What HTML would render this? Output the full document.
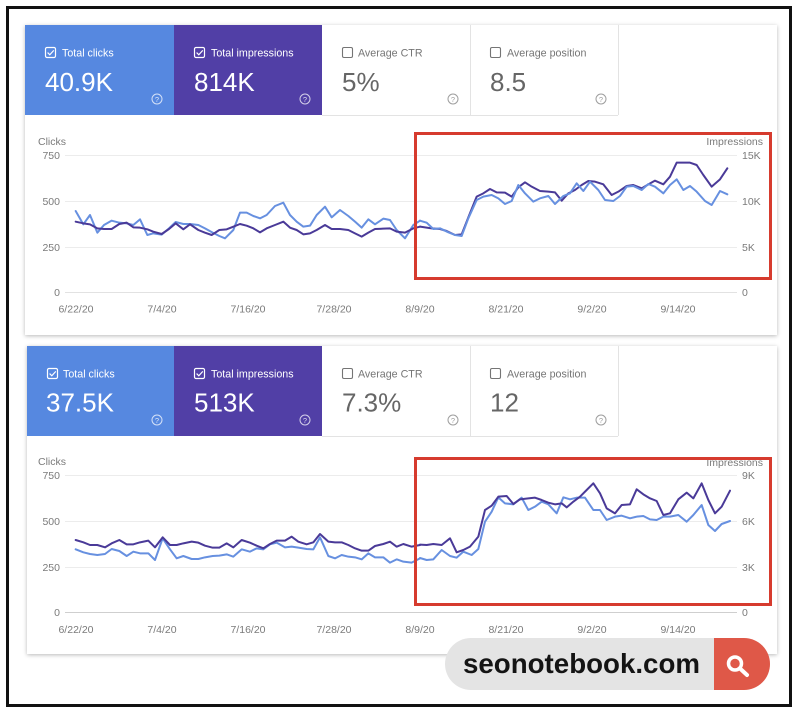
<!DOCTYPE html>
<html><head><meta charset="utf-8"><style>
html,body{margin:0;padding:0;background:#fff;}
body{width:800px;height:715px;position:relative;overflow:hidden;font-family:"Liberation Sans",sans-serif;}
.card{position:absolute;background:#fff;box-shadow:0 1px 4px rgba(0,0,0,0.28);}
.frame{position:absolute;left:6px;top:6px;width:786px;height:701px;border:3px solid #111;box-sizing:border-box;}
svg{position:absolute;left:0;top:0;}
</style></head><body>
<div class="frame"></div>
<div class="card" style="left:25px;top:25px;width:752px;height:310px;"></div>
<div class="card" style="left:27px;top:346px;width:750px;height:308px;"></div>
<svg width="800" height="715" viewBox="0 0 800 715" font-family="Liberation Sans, sans-serif">
<!-- ============ CARD 1 TILES ============ -->
<rect x="25" y="25" width="149" height="90" fill="#5688e0"/>
<rect x="174" y="25" width="148" height="90" fill="#513fa6"/>
<g stroke="#e3e3e3" stroke-width="1">
<line x1="470.5" y1="25" x2="470.5" y2="115"/>
<line x1="618.5" y1="25" x2="618.5" y2="115"/>
<line x1="322" y1="115.5" x2="618" y2="115.5"/>
</g>
<!-- tile1 -->
<rect x="45.5" y="47.5" width="10" height="10" rx="1.5" fill="none" stroke="#fff" stroke-width="1.2"/>
<path d="M47.6,52.6 l2.2,2.2 l4,-4.4" fill="none" stroke="#fff" stroke-width="1.2"/>
<text x="62" y="56.5" font-size="10.7" fill="#fff">Total clicks</text>
<text x="45" y="91" font-size="26" fill="#fff">40.9K</text>
<circle cx="157" cy="99" r="5" fill="none" stroke="rgba(255,255,255,0.75)" stroke-width="1"/>
<text x="157" y="101.8" font-size="7.5" fill="rgba(255,255,255,0.8)" text-anchor="middle">?</text>
<!-- tile2 -->
<rect x="194.5" y="47.5" width="10" height="10" rx="1.5" fill="none" stroke="#fff" stroke-width="1.2"/>
<path d="M196.6,52.6 l2.2,2.2 l4,-4.4" fill="none" stroke="#fff" stroke-width="1.2"/>
<text x="211" y="56.5" font-size="10.7" fill="#fff">Total impressions</text>
<text x="194" y="91" font-size="26" fill="#fff">814K</text>
<circle cx="305" cy="99" r="5" fill="none" stroke="rgba(255,255,255,0.75)" stroke-width="1"/>
<text x="305" y="101.8" font-size="7.5" fill="rgba(255,255,255,0.8)" text-anchor="middle">?</text>
<!-- tile3 -->
<rect x="342.5" y="47.5" width="10" height="10" rx="1.5" fill="none" stroke="#757575" stroke-width="1.1"/>
<text x="358" y="56.5" font-size="10.7" fill="#757575">Average CTR</text>
<text x="342" y="91" font-size="26" fill="#666">5%</text>
<circle cx="453" cy="99" r="5" fill="none" stroke="#9e9e9e" stroke-width="1"/>
<text x="453" y="101.8" font-size="7.5" fill="#9e9e9e" text-anchor="middle">?</text>
<!-- tile4 -->
<rect x="490.5" y="47.5" width="10" height="10" rx="1.5" fill="none" stroke="#757575" stroke-width="1.1"/>
<text x="507" y="56.5" font-size="10.7" fill="#757575">Average position</text>
<text x="490" y="91" font-size="26" fill="#666">8.5</text>
<circle cx="601" cy="99" r="5" fill="none" stroke="#9e9e9e" stroke-width="1"/>
<text x="601" y="101.8" font-size="7.5" fill="#9e9e9e" text-anchor="middle">?</text>

<!-- ============ CHART 1 ============ -->
<g stroke="#ececec" stroke-width="1">
<line x1="65" y1="155.5" x2="737" y2="155.5"/>
<line x1="65" y1="201.5" x2="737" y2="201.5"/>
<line x1="65" y1="247.5" x2="737" y2="247.5"/>
<line x1="65" y1="292.5" x2="737" y2="292.5" stroke="#e2e2e2"/>
</g>
<g font-size="10.5" fill="#7a7a7a">
<text x="38" y="145">Clicks</text>
<text x="60" y="159" text-anchor="end">750</text>
<text x="60" y="205" text-anchor="end">500</text>
<text x="60" y="251" text-anchor="end">250</text>
<text x="60" y="296" text-anchor="end">0</text>
<text x="763" y="145" text-anchor="end">Impressions</text>
<text x="742" y="159">15K</text>
<text x="742" y="205">10K</text>
<text x="742" y="251">5K</text>
<text x="742" y="296">0</text>
<g text-anchor="middle">
<text x="76" y="312.5">6/22/20</text>
<text x="162" y="312.5">7/4/20</text>
<text x="248" y="312.5">7/16/20</text>
<text x="334" y="312.5">7/28/20</text>
<text x="420" y="312.5">8/9/20</text>
<text x="506" y="312.5">8/21/20</text>
<text x="592" y="312.5">9/2/20</text>
<text x="678" y="312.5">9/14/20</text>
</g>
</g>
<g fill="none" stroke-width="6" stroke-linejoin="round" stroke-linecap="round">
<g transform="translate(20,130) scale(0.333333)">
<polyline stroke="#6790e0" points="167,243 190,283 210,255 232,308 252,285 275,272 298,278 320,280 340,285 360,268 382,315 400,310 425,314 447,295 467,276 490,282 510,282 535,285 555,295 578,308 598,318 615,325 640,300 660,248 680,248 700,258 720,265 740,255 765,228 790,218 810,255 830,275 850,290 870,287 890,255 915,230 935,262 960,240 985,258 1005,275 1025,293 1045,268 1065,283 1090,266 1110,270 1130,300 1155,325 1180,285 1200,272"/>
<polyline stroke="#4a3a98" points="167,275 190,280 210,283 232,295 252,297 275,297 298,282 320,278 340,292 360,293 382,298 400,305 425,312 447,297 467,280 490,298 510,283 535,300 555,308 575,315 598,300 620,298 640,290 660,282 680,287 700,295 720,307 740,295 765,285 790,275 810,293 830,300 850,313 870,310 890,300 915,285 935,297 960,297 985,300 1005,310 1025,320 1045,308 1065,297 1090,296 1110,295 1130,305 1155,308 1180,295 1200,290"/>
</g>
<g transform="translate(400,130) scale(0.333333)">
<polyline stroke="#4a3a98" points="60,290 95,295 120,297 140,303 165,315 185,313 205,262 230,200 250,190 270,177 290,187 315,188 335,200 355,172 375,157 395,170 420,183 445,185 465,187 485,212 505,190 525,180 545,165 565,153 585,155 610,163 635,195 655,185 680,168 700,165 725,175 745,163 765,152 790,163 810,140 830,98 850,98 870,98 890,105 910,135 935,170 960,148 982,115"/>
<polyline stroke="#6790e0" points="60,272 80,278 100,297 120,295 145,307 165,315 185,318 205,265 230,210 250,200 275,195 295,205 315,222 335,213 355,165 375,190 400,215 420,205 445,198 465,222 490,198 510,190 530,160 550,183 570,155 595,180 615,210 640,213 660,198 680,170 700,168 725,180 745,162 765,170 790,190 810,165 830,148 850,180 870,168 890,185 915,213 935,225 960,183 982,193"/>
</g>
</g>
<rect x="415.5" y="133.5" width="355" height="145" fill="none" stroke="#d63b2e" stroke-width="3"/>

<!-- ============ CARD 2 TILES ============ -->
<rect x="27" y="346" width="147" height="90" fill="#5688e0"/>
<rect x="174" y="346" width="148" height="90" fill="#513fa6"/>
<g stroke="#e3e3e3" stroke-width="1">
<line x1="470.5" y1="346" x2="470.5" y2="436"/>
<line x1="618.5" y1="346" x2="618.5" y2="436"/>
<line x1="322" y1="436.5" x2="618" y2="436.5"/>
</g>
<rect x="47.5" y="368.5" width="10" height="10" rx="1.5" fill="none" stroke="#fff" stroke-width="1.2"/>
<path d="M49.6,373.6 l2.2,2.2 l4,-4.4" fill="none" stroke="#fff" stroke-width="1.2"/>
<text x="63" y="377.5" font-size="10.7" fill="#fff">Total clicks</text>
<text x="46" y="411.5" font-size="26" fill="#fff">37.5K</text>
<circle cx="157" cy="420" r="5" fill="none" stroke="rgba(255,255,255,0.75)" stroke-width="1"/>
<text x="157" y="422.8" font-size="7.5" fill="rgba(255,255,255,0.8)" text-anchor="middle">?</text>
<rect x="194.5" y="368.5" width="10" height="10" rx="1.5" fill="none" stroke="#fff" stroke-width="1.2"/>
<path d="M196.6,373.6 l2.2,2.2 l4,-4.4" fill="none" stroke="#fff" stroke-width="1.2"/>
<text x="211" y="377.5" font-size="10.7" fill="#fff">Total impressions</text>
<text x="194" y="411.5" font-size="26" fill="#fff">513K</text>
<circle cx="305" cy="420" r="5" fill="none" stroke="rgba(255,255,255,0.75)" stroke-width="1"/>
<text x="305" y="422.8" font-size="7.5" fill="rgba(255,255,255,0.8)" text-anchor="middle">?</text>
<rect x="342.5" y="368.5" width="10" height="10" rx="1.5" fill="none" stroke="#757575" stroke-width="1.1"/>
<text x="358" y="377.5" font-size="10.7" fill="#757575">Average CTR</text>
<text x="342" y="411.5" font-size="26" fill="#666">7.3%</text>
<circle cx="453" cy="420" r="5" fill="none" stroke="#9e9e9e" stroke-width="1"/>
<text x="453" y="422.8" font-size="7.5" fill="#9e9e9e" text-anchor="middle">?</text>
<rect x="490.5" y="368.5" width="10" height="10" rx="1.5" fill="none" stroke="#757575" stroke-width="1.1"/>
<text x="507" y="377.5" font-size="10.7" fill="#757575">Average position</text>
<text x="490" y="411.5" font-size="26" fill="#666">12</text>
<circle cx="601" cy="420" r="5" fill="none" stroke="#9e9e9e" stroke-width="1"/>
<text x="601" y="422.8" font-size="7.5" fill="#9e9e9e" text-anchor="middle">?</text>

<!-- ============ CHART 2 ============ -->
<g stroke="#ececec" stroke-width="1">
<line x1="65" y1="475.5" x2="737" y2="475.5"/>
<line x1="65" y1="521.5" x2="737" y2="521.5"/>
<line x1="65" y1="567.5" x2="737" y2="567.5"/>
<line x1="65" y1="612.5" x2="737" y2="612.5" stroke="#cfcfcf"/>
</g>
<g font-size="10.5" fill="#7a7a7a">
<text x="38" y="465">Clicks</text>
<text x="60" y="479" text-anchor="end">750</text>
<text x="60" y="525" text-anchor="end">500</text>
<text x="60" y="571" text-anchor="end">250</text>
<text x="60" y="616" text-anchor="end">0</text>
<text x="763" y="466" text-anchor="end">Impressions</text>
<text x="742" y="479">9K</text>
<text x="742" y="525">6K</text>
<text x="742" y="571">3K</text>
<text x="742" y="616">0</text>
<g text-anchor="middle">
<text x="76" y="633">6/22/20</text>
<text x="162" y="633">7/4/20</text>
<text x="248" y="633">7/16/20</text>
<text x="334" y="633">7/28/20</text>
<text x="420" y="633">8/9/20</text>
<text x="506" y="633">8/21/20</text>
<text x="592" y="633">9/2/20</text>
<text x="678" y="633">9/14/20</text>
</g>
</g>
<g fill="none" stroke-width="6" stroke-linejoin="round" stroke-linecap="round">
<g transform="translate(20,450) scale(0.333333)">
<polyline stroke="#6790e0" points="167,298 190,307 210,312 232,315 255,312 275,297 298,303 320,318 340,305 360,310 385,310 405,330 428,265 450,298 470,325 490,318 515,327 535,327 555,322 578,318 598,317 620,313 640,320 665,298 690,305 710,295 730,298 750,283 770,278 795,292 815,290 835,293 860,297 880,298 900,262 925,318 945,325 965,315 985,320 1005,322 1025,328 1045,310 1065,322 1090,322 1110,338 1130,328 1150,335 1175,338 1200,325"/>
<polyline stroke="#4a3a98" points="167,270 190,277 210,285 232,285 255,292 275,280 298,270 320,283 340,283 360,277 385,272 405,292 428,262 450,285 470,285 490,280 515,275 535,278 555,287 578,293 598,293 620,280 640,292 665,270 690,278 710,287 730,295 750,282 770,272 795,272 815,260 835,275 860,283 880,277 900,252 925,275 945,277 965,277 985,285 1005,295 1025,302 1045,302 1065,288 1090,282 1110,275 1130,290 1150,282 1175,290 1200,285"/>
</g>
<g transform="translate(400,450) scale(0.333333)">
<polyline stroke="#6790e0" points="60,324 80,330 100,328 125,300 150,318 170,323 190,305 215,315 235,297 255,215 275,185 295,142 315,160 340,163 365,143 385,180 405,170 425,155 445,163 470,190 490,142 510,148 530,143 555,143 580,180 600,180 620,210 645,200 665,197 690,205 710,200 730,198 750,208 770,210 790,200 810,200 835,195 860,215 880,195 905,165 925,225 945,243 965,222 990,213"/>
<polyline stroke="#4a3a98" points="60,284 80,285 100,282 125,285 150,265 170,307 190,300 210,290 235,260 255,180 275,167 295,140 320,138 340,162 360,148 385,145 405,143 425,150 445,158 465,163 485,160 500,172 520,155 540,140 560,120 580,100 600,130 620,175 645,190 665,165 690,163 710,118 730,133 750,145 770,153 790,195 810,190 835,148 860,128 880,145 905,100 925,150 945,190 965,170 990,122"/>
</g>
</g>
<rect x="415.5" y="458.5" width="355" height="146" fill="none" stroke="#d63b2e" stroke-width="3"/>

<!-- ============ LOGO PILL ============ -->
<rect x="445" y="638" width="300" height="52" rx="26" ry="26" fill="#e4e4e4"/>
<path d="M714,638 H744 A26,26 0 0 1 770,664 A26,26 0 0 1 744,690 H714 Z" fill="#df5848"/>
<text x="463" y="673" font-size="28" font-weight="bold" fill="#141414" textLength="237" lengthAdjust="spacingAndGlyphs">seonotebook.com</text>
<circle cx="735" cy="663.5" r="6.5" fill="none" stroke="#fff" stroke-width="3.5"/>
<line x1="740" y1="668.5" x2="747" y2="675" stroke="#fff" stroke-width="4" stroke-linecap="round"/>
</svg>
</body></html>
